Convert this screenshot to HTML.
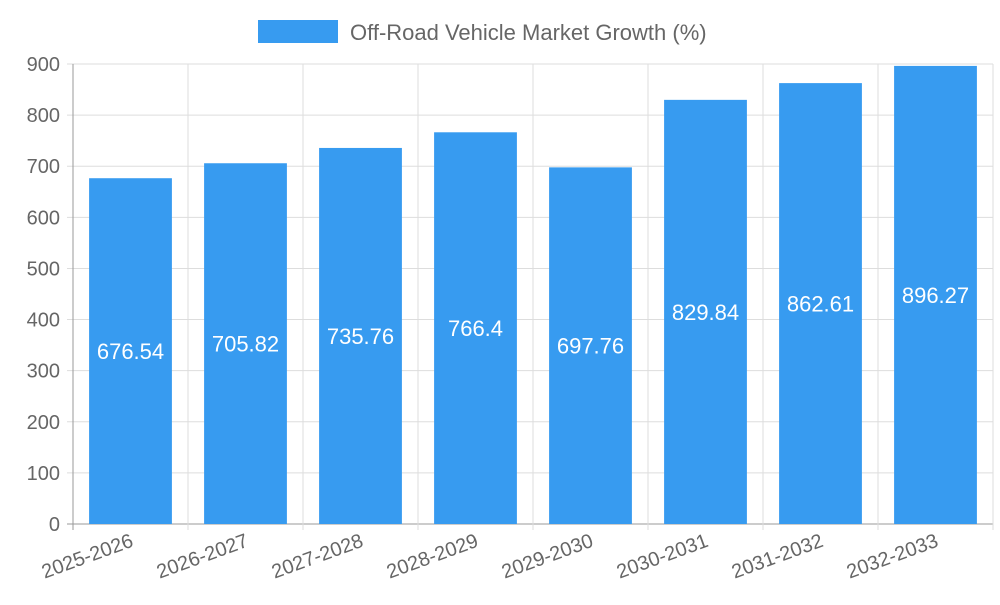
<!DOCTYPE html>
<html><head><meta charset="utf-8"><style>body{margin:0;background:#fff}svg{font-family:"Liberation Sans",sans-serif}</style></head>
<body>
<svg id="chart" width="1000" height="600" xmlns="http://www.w3.org/2000/svg">
<g>
<rect x="258" y="20" width="80" height="23" fill="#379bf0"/>
<text x="350" y="40" font-size="22" fill="#666">Off-Road Vehicle Market Growth (%)</text>
</g>
<g id="grid"></g><g id="bars"></g><g id="labels"></g>
</svg>
<script>
const categories=["2025-2026","2026-2027","2027-2028","2028-2029","2029-2030","2030-2031","2031-2032","2032-2033"];
const values=[676.54,705.82,735.76,766.4,697.76,829.84,862.61,896.27];
const yTicks=[0,100,200,300,400,500,600,700,800,900];
const L=73,R=993,T=64,B=524,yMax=900;
const ns="http://www.w3.org/2000/svg";
const bw=(R-L)/categories.length;
const y=v=>B-(v/yMax)*(B-T);
const x=i=>L+bw*i;
function mk(t,a,p){const e=document.createElementNS(ns,t);for(const k in a)e.setAttribute(k,a[k]);p.appendChild(e);return e;}
const g=document.getElementById('grid'),bg=document.getElementById('bars'),lg=document.getElementById('labels');
yTicks.forEach(t=>{
 const l=mk('line',{x1:67,x2:R,y1:y(t),y2:y(t),stroke:t===0?'#999':'#ddd','stroke-width':1},g);
 
 
 const tx=mk('text',{x:60,y:y(t)+7,'text-anchor':'end','font-size':20,fill:'#666'},g);
 tx.textContent=t;
 
 
});
for(let i=0;i<=categories.length;i++){
 const l=mk('line',{x1:x(i),x2:x(i),y1:T,y2:B+6,stroke:i===0?'#999':'#ddd','stroke-width':1},g);
 
 
}
categories.forEach((c,i)=>{
 const cx=x(i)+bw/2,w=bw*0.72;
 const r=mk('rect',{x:cx-w/2,y:y(values[i]),width:w,height:B-y(values[i]),fill:'#379bf0'},bg);
 
 
 const vt=mk('text',{x:cx,y:(y(values[i])+B)/2+8,'text-anchor':'middle','font-size':22,fill:'#fff'},lg);
 vt.textContent=values[i];
 
 
 const xt=mk('text',{x:cx+4,y:B+22,'text-anchor':'end','font-size':20,fill:'#666',transform:`rotate(-20 ${cx+4} ${B+22})`},lg);
 xt.textContent=c;
 
 
});
</script>
</body></html>
